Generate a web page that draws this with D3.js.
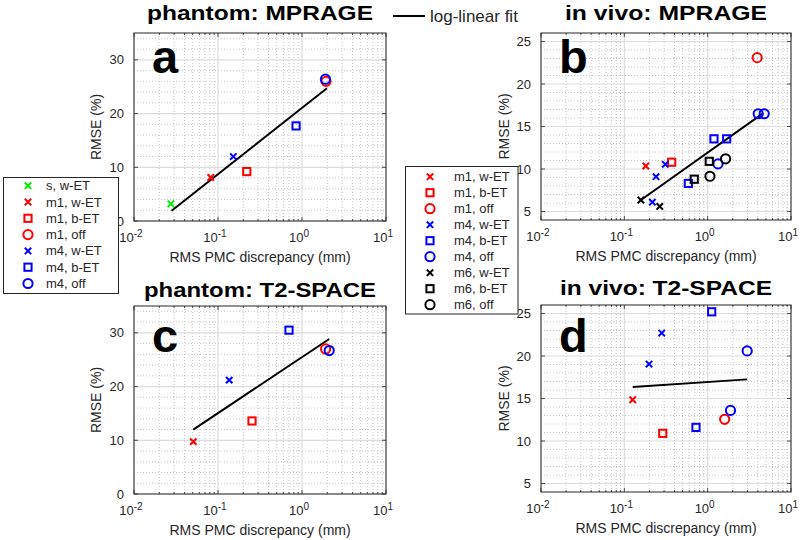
<!DOCTYPE html>
<html><head><meta charset="utf-8">
<script src="https://cdn.jsdelivr.net/npm/d3@7"></script>
<style>
body{margin:0;background:#fff;}
text{font-family:"Liberation Sans",Arial,Helvetica,sans-serif;fill:#262626;}
</style></head><body>
<svg id="chart" width="800" height="540"></svg>
<script>
// ---------- data ----------
const seriesNames = ["s, w-ET","m1, w-ET","m1, b-ET","m1, off","m4, w-ET","m4, b-ET","m4, off","m6, w-ET","m6, b-ET","m6, off"];
const seriesColors = ["#00ee00","#ff0000","#ff0000","#ff0000","#0000ff","#0000ff","#0000ff","#000000","#000000","#000000"];
const seriesShapes = ["x","x","square","circle","x","square","circle","x","square","circle"];

const panelTitles = ["phantom: MPRAGE","in vivo: MPRAGE","phantom: T2-SPACE","in vivo: T2-SPACE"];
const panelLetters = ["a","b","c","d"];
const xTickExponents = [-2,-1,0,1];
const yTicksPhantom = [0,10,20,30];
const yTicksInVivo = [5,10,15,20,25];

// panel a: phantom MPRAGE
const aSeries = ["s, w-ET","m1, w-ET","m4, w-ET","m1, b-ET","m4, b-ET","m1, off","m4, off"];
const aPMC    = [0.0275, 0.082, 0.152, 0.22, 0.85, 1.93, 1.90];
const aRMSE   = [3.2, 8.1, 12.0, 9.2, 17.7, 26.0, 26.4];
const aFitX   = [0.028, 1.98];
const aFitY   = [1.9, 24.7];

// panel b: in vivo MPRAGE
const bSeries = ["m1, w-ET","m1, b-ET","m1, off","m4, w-ET","m4, w-ET","m4, w-ET","m4, b-ET","m4, b-ET","m4, b-ET","m4, off","m4, off","m4, off","m6, w-ET","m6, w-ET","m6, b-ET","m6, b-ET","m6, off","m6, off"];
const bPMC    = [0.181, 0.37, 3.93, 0.31, 0.24, 0.217, 0.586, 1.19, 1.69, 1.33, 4.04, 4.77, 0.158, 0.266, 0.69, 1.045, 1.065, 1.64];
const bRMSE   = [10.35, 10.8, 23.1, 10.55, 9.1, 6.1, 8.3, 13.55, 13.55, 10.6, 16.5, 16.5, 6.35, 5.6, 8.8, 10.9, 9.15, 11.2];
const bFitX   = [0.158, 4.6];
const bFitY   = [6.35, 16.55];

// panel c: phantom T2-SPACE
const cSeries = ["m1, w-ET","m4, w-ET","m1, b-ET","m4, b-ET","m1, off","m4, off"];
const cPMC    = [0.0508, 0.136, 0.254, 0.70, 1.91, 2.11];
const cRMSE   = [9.75, 21.2, 13.6, 30.5, 27.0, 26.7];
const cFitX   = [0.0508, 2.11];
const cFitY   = [12.0, 28.85];

// panel d: in vivo T2-SPACE
const dSeries = ["m1, w-ET","m4, w-ET","m4, w-ET","m1, b-ET","m4, b-ET","m4, b-ET","m1, off","m4, off","m4, off"];
const dPMC    = [0.126, 0.198, 0.281, 0.289, 0.724, 1.117, 1.6, 1.88, 2.98];
const dRMSE   = [14.85, 19.05, 22.7, 10.9, 11.6, 25.2, 12.55, 13.6, 20.6];
const dFitX   = [0.126, 2.98];
const dFitY   = [16.35, 17.25];

const legendLeft  = ["s, w-ET","m1, w-ET","m1, b-ET","m1, off","m4, w-ET","m4, b-ET","m4, off"];
const legendRight = ["m1, w-ET","m1, b-ET","m1, off","m4, w-ET","m4, b-ET","m4, off","m6, w-ET","m6, b-ET","m6, off"];

const xLabel = "RMS PMC discrepancy (mm)";
const yLabel = "RMSE (%)";
const fitLabel = "log-linear fit";

// ---------- drawing ----------
const svg = d3.select("#chart");
const sIdx = n => seriesNames.indexOf(n);

function drawMarker(g, shape, color, x, y){
  if(shape==="x"){
    const s=3.2;
    g.append("path").attr("d",`M${x-s},${y-s}L${x+s},${y+s}M${x-s},${y+s}L${x+s},${y-s}`)
      .attr("stroke",color).attr("stroke-width",2).attr("fill","none");
  } else if(shape==="square"){
    const s=3.6;
    g.append("rect").attr("x",x-s).attr("y",y-s).attr("width",2*s).attr("height",2*s)
      .attr("stroke",color).attr("stroke-width",2).attr("fill","none");
  } else {
    g.append("circle").attr("cx",x).attr("cy",y).attr("r",4.6)
      .attr("stroke",color).attr("stroke-width",2).attr("fill","none");
  }
}

const panels = [
  {x0:134,x1:386,y0:33,y1:221,yd:[0,35],yt:yTicksPhantom,ym:2,ser:aSeries,px:aPMC,py:aRMSE,fx:aFitX,fy:aFitY,title:panelTitles[0],tb:20,tw:226,letter:panelLetters[0],lb:73,ylx:101},
  {x0:541,x1:791,y0:33,y1:220,yd:[4,26],yt:yTicksInVivo,ym:1,ser:bSeries,px:bPMC,py:bRMSE,fx:bFitX,fy:bFitY,title:panelTitles[1],tb:20,tw:202,letter:panelLetters[1],lb:73,ylx:509},
  {x0:134,x1:386,y0:306,y1:494,yd:[0,35],yt:yTicksPhantom,ym:2,ser:cSeries,px:cPMC,py:cRMSE,fx:cFitX,fy:cFitY,title:panelTitles[2],tb:297,tw:232,letter:panelLetters[2],lb:352,ylx:101},
  {x0:541,x1:791,y0:305,y1:492,yd:[4,26],yt:yTicksInVivo,ym:1,ser:dSeries,px:dPMC,py:dRMSE,fx:dFitX,fy:dFitY,title:panelTitles[3],tb:295,tw:212,letter:panelLetters[3],lb:352,ylx:509}
];

panels.forEach(p=>{
  const g = svg.append("g");
  const x = d3.scaleLog().domain([1e-2,1e1]).range([p.x0,p.x1]);
  const y = d3.scaleLinear().domain(p.yd).range([p.y1,p.y0]);
  const gridG = g.append("g");
  const minorX=[];
  xTickExponents.slice(0,-1).forEach(e=>{ for(let k=2;k<=9;k++) minorX.push(k*Math.pow(10,e)); });
  const majorX = xTickExponents.map(e=>Math.pow(10,e));
  const minorY = d3.range(p.yd[0], p.yd[1]+1e-9, p.ym).filter(v=>!p.yt.includes(v) && v>p.yd[0] && v<p.yd[1]);
  gridG.selectAll(".mx").data(minorX).enter().append("line")
    .attr("x1",d=>x(d)).attr("x2",d=>x(d)).attr("y1",p.y0).attr("y2",p.y1)
    .attr("stroke","#b8b8b8").attr("stroke-width",0.8).attr("stroke-dasharray","1,2");
  gridG.selectAll(".my").data(minorY).enter().append("line")
    .attr("y1",d=>y(d)).attr("y2",d=>y(d)).attr("x1",p.x0).attr("x2",p.x1)
    .attr("stroke","#b8b8b8").attr("stroke-width",0.8).attr("stroke-dasharray","1,2");
  gridG.selectAll(".Mx").data(majorX).enter().append("line")
    .attr("x1",d=>x(d)).attr("x2",d=>x(d)).attr("y1",p.y0).attr("y2",p.y1)
    .attr("stroke","#dcdcdc").attr("stroke-width",1.2);
  gridG.selectAll(".My").data(p.yt).enter().append("line")
    .attr("y1",d=>y(d)).attr("y2",d=>y(d)).attr("x1",p.x0).attr("x2",p.x1)
    .attr("stroke","#dcdcdc").attr("stroke-width",1.2);
  const tk = g.append("g").attr("stroke","#262626").attr("stroke-width",0.8);
  majorX.forEach(v=>{
    tk.append("line").attr("x1",x(v)).attr("x2",x(v)).attr("y1",p.y1).attr("y2",p.y1-4);
    tk.append("line").attr("x1",x(v)).attr("x2",x(v)).attr("y1",p.y0).attr("y2",p.y0+4);
  });
  minorX.forEach(v=>{
    tk.append("line").attr("x1",x(v)).attr("x2",x(v)).attr("y1",p.y1).attr("y2",p.y1-2);
    tk.append("line").attr("x1",x(v)).attr("x2",x(v)).attr("y1",p.y0).attr("y2",p.y0+2);
  });
  p.yt.forEach(v=>{
    tk.append("line").attr("y1",y(v)).attr("y2",y(v)).attr("x1",p.x0).attr("x2",p.x0+4);
    tk.append("line").attr("y1",y(v)).attr("y2",y(v)).attr("x1",p.x1).attr("x2",p.x1-4);
  });
  g.append("rect").attr("x",p.x0).attr("y",p.y0).attr("width",p.x1-p.x0).attr("height",p.y1-p.y0)
    .attr("fill","none").attr("stroke","#262626").attr("stroke-width",1);
  p.yt.forEach(v=>{
    g.append("text").attr("x",p.x0-10).attr("y",y(v)+4.5).attr("text-anchor","end")
      .attr("font-size",13).text(v);
  });
  xTickExponents.forEach(e=>{
    const t = g.append("text").attr("x",x(Math.pow(10,e))-3).attr("y",p.y1+21).attr("text-anchor","middle").attr("font-size",13);
    t.append("tspan").text("10");
    t.append("tspan").attr("dy",-5).attr("font-size",10).text(e);
  });
  g.append("text").attr("x",(p.x0+p.x1)/2).attr("y",p.y1+41).attr("text-anchor","middle").attr("font-size",14).text(xLabel);
  g.append("text").attr("transform",`translate(${p.ylx},${(p.y0+p.y1)/2}) rotate(-90)`).attr("text-anchor","middle").attr("font-size",14).text(yLabel);
  g.append("text").attr("x",(p.x0+p.x1)/2).attr("y",p.tb).attr("text-anchor","middle")
    .attr("font-size",21).attr("font-weight","bold").attr("textLength",p.tw).attr("lengthAdjust","spacingAndGlyphs")
    .style("fill","#000").text(p.title);
  g.append("text").attr("x",p.x0+18).attr("y",p.lb).attr("font-size",47).attr("font-weight","bold").style("fill","#000").text(p.letter);
  const line = d3.line().x(d=>x(d[0])).y(d=>y(d[1]));
  g.append("path").datum(p.fx.map((v,i)=>[v,p.fy[i]])).attr("d",line)
    .attr("stroke","#000").attr("stroke-width",2).attr("fill","none");
  const mg = g.append("g");
  p.px.forEach((v,i)=>{
    const k = sIdx(p.ser[i]);
    drawMarker(mg, seriesShapes[k], seriesColors[k], x(v), y(p.py[i]));
  });
});

function drawLegend(items, bx, by, bw, bh, mx, tx, ty0, dy){
  const g = svg.append("g");
  g.append("rect").attr("x",bx).attr("y",by).attr("width",bw).attr("height",bh)
    .attr("fill","#fff").attr("stroke","#262626").attr("stroke-width",1);
  items.forEach((n,i)=>{
    const k = sIdx(n);
    const yy = ty0 + i*dy;
    drawMarker(g, seriesShapes[k], seriesColors[k], mx, yy);
    g.append("text").attr("x",tx).attr("y",yy+4.5).attr("font-size",13).text(n);
  });
}
drawLegend(legendLeft, 3.5, 177.5, 115, 116, 28, 46, 185.7, 16.3);
drawLegend(legendRight, 405.5, 166.5, 112.5, 147.5, 430, 454, 176.7, 16.0);

svg.append("line").attr("x1",393).attr("x2",425).attr("y1",16).attr("y2",16).attr("stroke","#000").attr("stroke-width",2);
svg.append("text").attr("x",430).attr("y",21.5).attr("font-size",17).text(fitLabel);
</script>
</body></html>
